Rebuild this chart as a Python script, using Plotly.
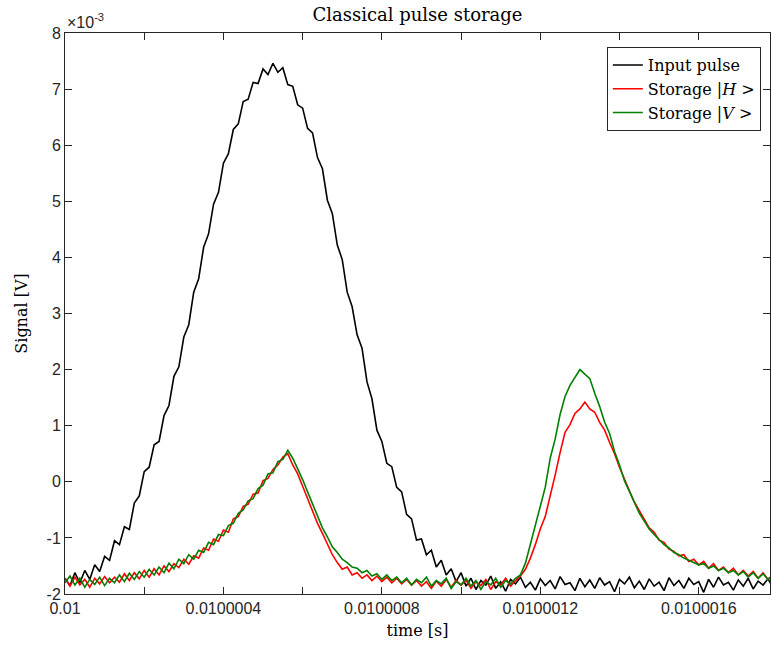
import numpy as np
import plotly.graph_objects as go

# sampling grid (time axis)
t_start = 0.01
t_step = 1.25e-8

# Signals in units of 1e-3 V
input_pulse = [
    -1.72, -1.85, -1.62, -1.80, -1.58, -1.74, -1.48, -1.60, -1.33, -1.40,
    -1.05, -1.12, -0.80, -0.85, -0.38, -0.25, 0.18, 0.26, 0.66, 0.72,
    1.18, 1.36, 1.88, 2.05, 2.58, 2.80, 3.38, 3.62, 4.18, 4.42,
    4.95, 5.16, 5.68, 5.85, 6.28, 6.38, 6.78, 6.82, 7.12, 7.10,
    7.36, 7.26, 7.46, 7.30, 7.38, 7.08, 7.05, 6.72, 6.66, 6.30,
    6.22, 5.78, 5.58, 5.02, 4.78, 4.22, 3.96, 3.38, 3.12, 2.62,
    2.38, 1.78, 1.48, 0.92, 0.72, 0.33, 0.27, -0.10, -0.18, -0.58,
    -0.66, -1.04, -1.02, -1.30, -1.22, -1.52, -1.40, -1.66, -1.55, -1.78,
    -1.62, -1.86, -1.72, -1.92, -1.76, -1.84, -1.68, -1.90, -1.78, -1.95,
    -1.74, -1.82, -1.70, -1.88, -1.79, -1.93, -1.73, -1.85, -1.76, -1.91,
    -1.69, -1.83, -1.80, -1.94, -1.72, -1.87, -1.75, -1.90, -1.71, -1.84,
    -1.78, -1.96, -1.74, -1.82, -1.70, -1.89, -1.77, -1.92, -1.73, -1.86,
    -1.79, -1.94, -1.71, -1.85, -1.76, -1.90, -1.72, -1.83, -1.78, -1.97,
    -1.74, -1.88, -1.70, -1.84, -1.79, -1.93, -1.75, -1.86, -1.72, -1.91,
    -1.77, -1.84, -1.73, -1.89,
]

storage_H = [
    -1.72, -1.86, -1.70, -1.84, -1.74, -1.88, -1.72, -1.82, -1.69, -1.80,
    -1.70, -1.79, -1.64, -1.76, -1.62, -1.73, -1.58, -1.70, -1.55, -1.66,
    -1.50, -1.60, -1.46, -1.53, -1.38, -1.47, -1.32, -1.36, -1.18, -1.22,
    -1.02, -1.06, -0.86, -0.90, -0.66, -0.62, -0.44, -0.40, -0.22, -0.20,
    0.02, 0.06, 0.22, 0.30, 0.44, 0.50, 0.30, 0.14, -0.08, -0.30,
    -0.52, -0.74, -0.92, -1.10, -1.30, -1.44, -1.56, -1.52, -1.66, -1.62,
    -1.72, -1.66, -1.76, -1.68, -1.78, -1.70, -1.80, -1.72, -1.82, -1.74,
    -1.84, -1.76, -1.86, -1.78, -1.90, -1.77, -1.86, -1.74, -1.88, -1.76,
    -1.84, -1.75, -1.90, -1.78, -1.85, -1.74, -1.92, -1.78, -1.84, -1.72,
    -1.86, -1.76, -1.68, -1.56, -1.36, -1.12, -0.84, -0.62, -0.26, 0.12,
    0.52, 0.88, 1.02, 1.22, 1.30, 1.42, 1.30, 1.24, 1.06, 0.92,
    0.70, 0.50, 0.26, 0.04, -0.16, -0.36, -0.52, -0.68, -0.82, -0.90,
    -1.04, -1.08, -1.20, -1.24, -1.32, -1.30, -1.42, -1.38, -1.48, -1.42,
    -1.54, -1.46, -1.58, -1.52, -1.62, -1.54, -1.66, -1.58, -1.68, -1.60,
    -1.72, -1.62, -1.74, -1.66,
]

storage_V = [
    -1.80, -1.68, -1.84, -1.72, -1.88, -1.74, -1.83, -1.70, -1.85, -1.72,
    -1.80, -1.66, -1.78, -1.63, -1.74, -1.60, -1.70, -1.56, -1.66, -1.52,
    -1.62, -1.45, -1.55, -1.38, -1.46, -1.30, -1.38, -1.22, -1.26, -1.08,
    -1.12, -0.94, -0.96, -0.78, -0.74, -0.56, -0.50, -0.34, -0.30, -0.12,
    -0.06, 0.14, 0.16, 0.36, 0.40, 0.56, 0.42, 0.24, 0.04, -0.18,
    -0.40, -0.62, -0.82, -0.98, -1.16, -1.26, -1.38, -1.44, -1.52, -1.54,
    -1.62, -1.58, -1.68, -1.64, -1.74, -1.66, -1.76, -1.70, -1.80, -1.72,
    -1.84, -1.74, -1.80, -1.70, -1.86, -1.76, -1.82, -1.72, -1.90, -1.78,
    -1.84, -1.72, -1.86, -1.76, -1.92, -1.78, -1.84, -1.72, -1.88, -1.76,
    -1.82, -1.72, -1.66, -1.45, -1.12, -0.80, -0.42, -0.10, 0.42, 0.76,
    1.20, 1.52, 1.72, 1.86, 2.00, 1.92, 1.84, 1.58, 1.34, 1.06,
    0.86, 0.54, 0.30, 0.02, -0.18, -0.38, -0.56, -0.70, -0.84, -0.94,
    -1.04, -1.12, -1.18, -1.26, -1.30, -1.36, -1.40, -1.44, -1.48, -1.46,
    -1.54, -1.50, -1.58, -1.54, -1.62, -1.58, -1.66, -1.60, -1.70, -1.62,
    -1.72, -1.64, -1.74, -1.68,
]

series_names = ["Input pulse", "Storage |<i>H</i> >", "Storage |<i>V</i> >"]
series_colors = ["#000000", "#ff0000", "#008000"]

x_tickvals = [0.01, 0.0100002, 0.0100004, 0.0100006, 0.0100008,
              0.0100010, 0.0100012, 0.0100014, 0.0100016]
x_ticktext = ["0.01", "", "0.0100004", "", "0.0100008",
              "", "0.0100012", "", "0.0100016"]
y_tickvals = [-2, -1, 0, 1, 2, 3, 4, 5, 6, 7, 8]
y_ticktext = ["-2", "-1", "0", "1", "2", "3", "4", "5", "6", "7", "8"]

fig = go.Figure()
for name, col, ser in zip(series_names, series_colors,
                          [input_pulse, storage_H, storage_V]):
    t = t_start + t_step * np.arange(len(ser))
    fig.add_trace(go.Scatter(
        x=t, y=np.array(ser) * 1e-3, mode="lines", name=name,
        line=dict(color=col, width=1.6),
    ))

axis_col = "#262626"
tick_font = dict(family="Liberation Sans, Arial, sans-serif", size=16, color=axis_col)
serif = "DejaVu Serif, serif"

fig.update_layout(
    width=771, height=652,
    margin=dict(l=65, r=1, t=33, b=58),
    paper_bgcolor="white", plot_bgcolor="white",
    title=dict(text="Classical pulse storage", x=0.5415, xanchor="center",
               y=0.978, yanchor="middle",
               font=dict(family=serif, size=18, color="#000000")),
    showlegend=True,
    legend=dict(x=0.987, y=0.975, xanchor="right", yanchor="top",
                bgcolor="white", bordercolor=axis_col, borderwidth=1,
                font=dict(family=serif, size=16, color="#000000"),
                tracegroupgap=0, itemwidth=30),
)
fig.update_xaxes(
    range=[0.01, 0.01000178], tickmode="array",
    tickvals=x_tickvals, ticktext=x_ticktext,
    ticks="inside", ticklen=7, tickcolor=axis_col, tickwidth=1,
    showline=True, linecolor=axis_col, linewidth=1, mirror="allticks",
    showgrid=False, zeroline=False, tickfont=tick_font,
    title=dict(text="time [s]", font=dict(family=serif, size=16, color="#000000"),
               standoff=8),
)
fig.update_yaxes(
    range=[-2e-3, 8e-3], tickmode="array",
    tickvals=[v * 1e-3 for v in y_tickvals], ticktext=y_ticktext,
    ticks="inside", ticklen=7, tickcolor=axis_col, tickwidth=1,
    showline=True, linecolor=axis_col, linewidth=1, mirror="allticks",
    showgrid=False, zeroline=False, tickfont=tick_font,
    title=dict(text="Signal [V]", font=dict(family=serif, size=16, color="#000000"),
               standoff=14),
)
fig.add_annotation(
    text="×10<sup>-3</sup>", xref="paper", yref="paper", x=0.0, y=1.0,
    xanchor="left", yanchor="bottom", showarrow=False,
    font=dict(family="Liberation Sans, Arial, sans-serif", size=16, color=axis_col),
)

fig.write_html("out.html")
